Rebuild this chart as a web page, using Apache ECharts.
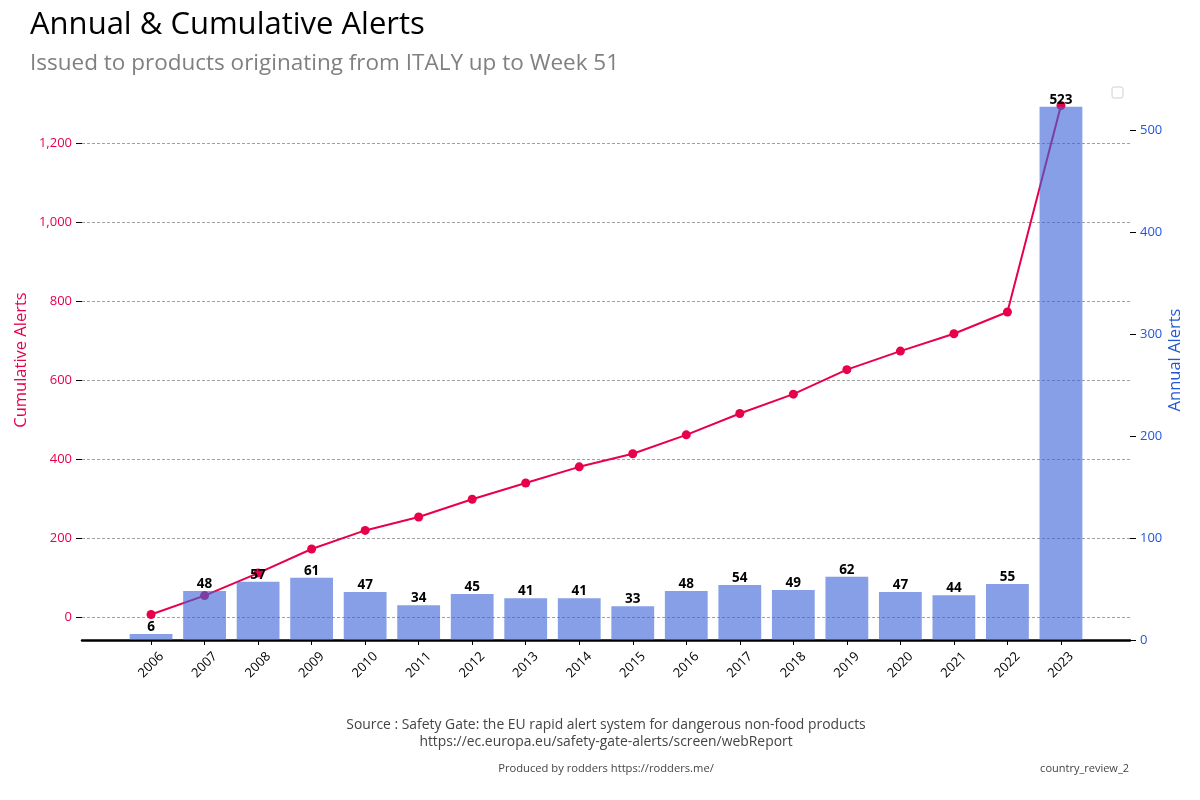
<!DOCTYPE html>
<html><head><meta charset="utf-8">
<script src="https://cdn.jsdelivr.net/npm/echarts@6/dist/echarts.min.js"></script>
<style>html,body{margin:0;padding:0;background:#fff}#c{width:1200px;height:800px}</style>
</head><body><div id="c"></div>
<script>
const years = ['2006','2007','2008','2009','2010','2011','2012','2013','2014','2015','2016','2017','2018','2019','2020','2021','2022','2023'];
const annual = [6,48,57,61,47,34,45,41,41,33,48,54,49,62,47,44,55,523];
const cumulative = [6,54,111,172,219,253,298,339,380,413,461,515,564,626,673,717,772,1295];
const leftTicks = [0,200,400,600,800,1000,1200];
const rightTicks = [0,100,200,300,400,500];

const RED = '#e8004a', BLUE = '#2357d6';
const F = 'Open Sans';
const chart = echarts.init(document.getElementById('c'));
const idx = years.map((y,i)=>i);
chart.setOption({
  animation:false,
  textStyle:{fontFamily:F},
  title:[
    {text:'Annual & Cumulative Alerts', left:25, top:5, textStyle:{fontFamily:F, fontSize:31, fontWeight:'normal', color:'#000'}},
    {text:'Issued to products originating from ITALY up to Week 51', left:25, top:47, textStyle:{fontFamily:F, fontSize:22.5, fontWeight:'normal', color:'#808080'}},
    {text:'Source : Safety Gate: the EU rapid alert system for dangerous non-food products\nhttps://ec.europa.eu/safety-gate-alerts/screen/webReport', left:601, top:712, textAlign:'center', textStyle:{fontFamily:F, fontSize:13.9, fontWeight:'normal', color:'#444', lineHeight:17, align:'center'}},
    {text:'Produced by rodders https://rodders.me/', left:601, top:758, textAlign:'center', textStyle:{fontFamily:F, fontSize:11.2, fontWeight:'normal', color:'#444'}},
    {text:'country_review_2', right:66, top:758, textStyle:{fontFamily:F, fontSize:11, fontWeight:'normal', color:'#444'}}
  ],
  graphic:[{type:'rect', shape:{x:1112, y:87, width:11, height:11, r:2}, style:{fill:'#fff', stroke:'#d0d0d0', lineWidth:1}}],
  grid:{left:82, right:70, top:80, bottom:160},
  xAxis:{type:'value', min:-1.29, max:18.29,
    axisLine:{show:true, onZero:false, lineStyle:{color:'#000', width:2.5}},
    axisTick:{show:true, customValues:idx, length:5, lineStyle:{color:'#000'}},
    axisLabel:{customValues:idx, rotate:45, fontSize:13, color:'#000', fontFamily:F, formatter:v=>years[v], margin:25, align:'center', verticalAlign:'middle'},
    splitLine:{show:false}},
  yAxis:[
    {type:'value', position:'left', min:-58.45, max:1359.45,
      name:'Cumulative Alerts', nameLocation:'middle', nameGap:52, nameMoveOverlap:false, nameTextStyle:{color:RED, fontSize:16.5, fontFamily:F},
      axisLine:{show:false, onZero:false},
      axisTick:{show:true, customValues:leftTicks, length:6, lineStyle:{color:'#000'}},
      axisLabel:{customValues:leftTicks, color:RED, fontSize:13, fontFamily:F, margin:10},
      splitLine:{show:true, lineStyle:{color:'#777', type:[3,2], width:0.7}}},
    {type:'value', position:'right', min:0, max:549.15,
      name:'Annual Alerts', nameLocation:'middle', nameGap:37, nameMoveOverlap:false, nameRotate:90, nameTextStyle:{color:BLUE, fontSize:16.5, fontFamily:F},
      axisLine:{show:false, onZero:false},
      axisTick:{show:true, customValues:rightTicks, length:6, lineStyle:{color:'#000'}},
      axisLabel:{customValues:rightTicks, color:BLUE, fontSize:13, fontFamily:F, margin:10},
      splitLine:{show:false}}
  ],
  series:[
    {type:'line', yAxisIndex:0, z:2, data:cumulative.map((v,i)=>[i,v]),
      symbol:'circle', symbolSize:9, itemStyle:{color:RED}, lineStyle:{color:RED, width:2}},
    {type:'bar', yAxisIndex:1, z:3, barWidth:42.8, data:annual.map((v,i)=>[i,v]),
      itemStyle:{color:'rgba(60,100,215,0.62)'},
      label:{show:true, position:'top', distance:0, color:'#000', fontWeight:'bold', fontSize:13.5, fontFamily:F}}
  ]
});
</script></body></html>
